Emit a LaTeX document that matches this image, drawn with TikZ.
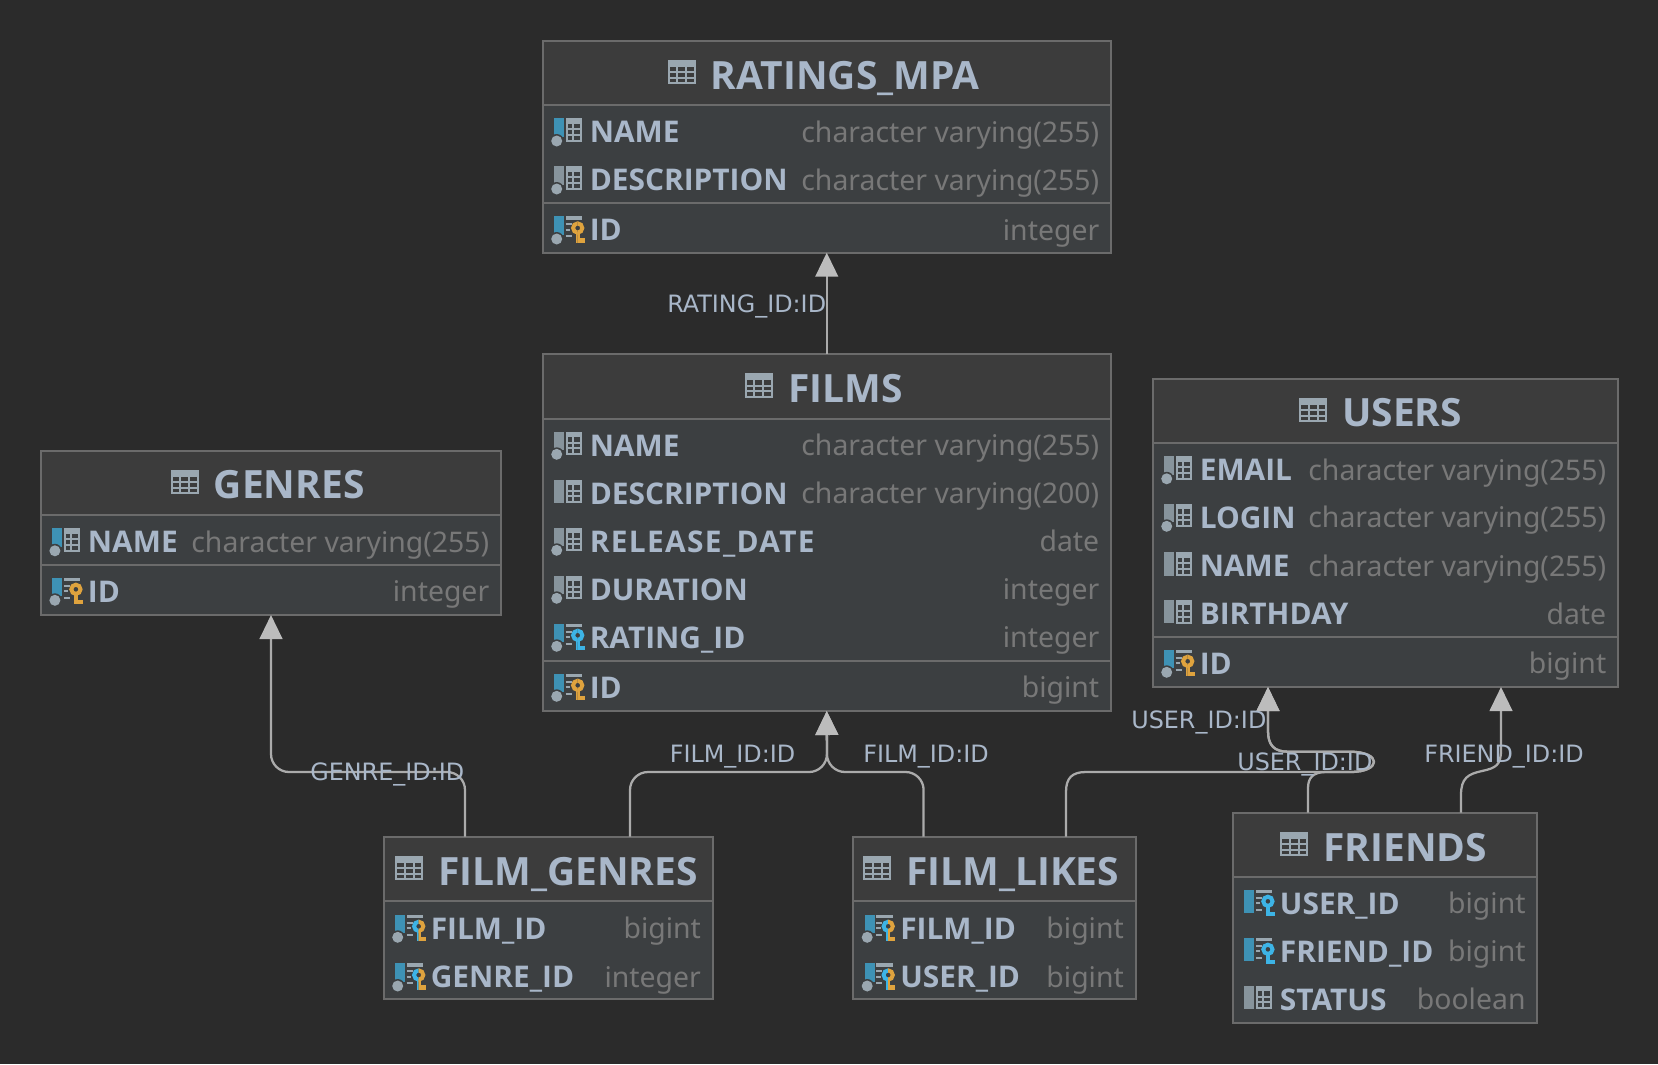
\documentclass[tikz,border=0pt]{standalone}
\usepackage{fontspec}
\setmainfont{Noto Sans}
\newfontfamily\namefont{Open Sans}
\newfontfamily\labelfont{DejaVu Sans}
\usetikzlibrary{arrows.meta}
\definecolor{bgc}{HTML}{2B2B2B}
\definecolor{headc}{HTML}{3C3C3C}
\definecolor{bodyc}{HTML}{3C3F41}
\definecolor{linec}{HTML}{6B6B6B}
\definecolor{namec}{HTML}{A9B7C9}
\definecolor{typec}{HTML}{787878}
\definecolor{edgec}{HTML}{ABABAB}
\definecolor{tipc}{HTML}{BCBCBC}
\definecolor{iconc}{HTML}{9AA7B0}
\definecolor{graybar}{HTML}{87949C}
\definecolor{bluebar}{HTML}{3E92B5}
\definecolor{keypk}{HTML}{DFA33E}
\definecolor{keyfk}{HTML}{3DB4E6}
\tikzset{
  tbl/.style={anchor=north west,inner sep=0,outer sep=0,fill=bodyc},
  tblline/.style={draw=linec,line width=1.5pt},
  headname/.style={anchor=base west,inner sep=0,text=namec,font=\namefont\fontsize{29.2}{33}\selectfont\bfseries},
  colname/.style={anchor=base west,inner sep=0,text=namec,font=\namefont\fontsize{22.4}{26}\selectfont\bfseries},
  coltype/.style={anchor=base east,inner sep=0,text=typec,font=\fontsize{21.3}{26}\selectfont},
  fkline/.style={edgec,line width=1.7pt},
  fktip/.style={-{Triangle[width=17pt,length=18pt,color=tipc]}},
  fklabel/.style={anchor=base west,inner sep=0,text=namec,font=\labelfont\fontsize{17.9}{20}\selectfont},
}
% small icons, x and y are the left side and the middle of the row
\newcommand{\dbkey}[4]{
  \begin{scope}
    \clip (#1+35.2-12,#2-15) rectangle (#1+35.2,#2+20);
    \draw[#3,line width=3pt] (#1+35.2,#2-1.7) circle (4.6);
    \fill[#3] (#1+33.4,#2+2) rectangle (#1+37,#2+13.3);
  \end{scope}
  \begin{scope}
    \clip (#1+35.2,#2-15) rectangle (#1+35.2+12,#2+20);
    \draw[#4,line width=3pt] (#1+35.2,#2-1.7) circle (4.6);
    \fill[#4] (#1+33.4,#2+2) rectangle (#1+37,#2+13.3);
    \fill[#4] (#1+35.2,#2+8.6) rectangle (#1+42,#2+13.3);
  \end{scope}
}
\newcommand{\colicon}[5]{
  \ifnum#4=1
    \fill[#3] (#1+11.5,#2-13.4) rectangle (#1+21.5,#2+5);
    \fill[bodyc] (#1+14.2,#2+9.3) circle (7);
    \fill[iconc] (#1+14.2,#2+9.3) circle (5.5);
  \else
    \fill[#3] (#1+11.5,#2-13.4) rectangle (#1+21.5,#2+10);
  \fi
  \ifnum#5=0
    \fill[iconc] (#1+23.2,#2-13.4) rectangle (#1+39.5,#2-8);
    \draw[iconc,line width=1.5pt] (#1+24,#2-8) -- (#1+24,#2+9.2) -- (#1+38.7,#2+9.2) -- (#1+38.7,#2-8)
      (#1+24,#2-2.5) -- (#1+38.7,#2-2.5) (#1+24,#2+3.4) -- (#1+38.7,#2+3.4) (#1+30,#2-8) -- (#1+30,#2+9.2);
  \else
    \fill[iconc] (#1+23.2,#2-13.4) rectangle (#1+39.5,#2-10);
    \draw[iconc,line width=1.5pt] (#1+23.2,#2-5.5) -- (#1+29,#2-5.5) (#1+23.2,#2) -- (#1+27.5,#2) (#1+23.2,#2+6.5) -- (#1+29,#2+6.5);
    \ifcase#5 \or \dbkey{#1}{#2}{keypk}{keypk} \or \dbkey{#1}{#2}{keyfk}{keyfk} \or \dbkey{#1}{#2}{keyfk}{keypk} \fi
  \fi
}
% id, left, top, right, bottom, line under head, left of title, title, rows
\newcommand{\dbtable}[9]{
  \node[tbl,minimum width={(#4-#2)*.75pt},minimum height={(#5-#3)*.75pt}] (#1) at (#2,#3) {};
  \fill[headc] (#1.north west) rectangle (#4,#6);
  \draw[tblline] (#1.north west) rectangle (#1.south east);
  \draw[tblline] (#2,#6) -- (#4,#6);
  \fill[iconc] (#7-43.7,#3+19.3) rectangle (#7-16,#3+26);
  \draw[iconc,line width=1.5pt] (#7-43,#3+26) -- (#7-43,#3+42.6) -- (#7-16.7,#3+42.6) -- (#7-16.7,#3+26)
    (#7-43,#3+31.5) -- (#7-16.7,#3+31.5) (#7-43,#3+37) -- (#7-16.7,#3+37)
    (#7-34.5,#3+26) -- (#7-34.5,#3+42.6) (#7-25.5,#3+26) -- (#7-25.5,#3+42.6);
  \node[headname] (#1title) at (#7-1,#3+48.3) {#8};
  \foreach \ry/\rbar/\rdot/\rkey/\rname/\rtype [count=\i] in {#9} {
    \colicon{#2}{\ry}{\rbar}{\rdot}{\rkey}
    \node[colname] (#1name\i) at (#2+47,\ry+11.1) {\rname};
    \node[coltype] (#1type\i) at (#4-11.5,\ry+10.9) {\rtype};
  }
}
% the part both USER_ID lines share, from the loop to the arrow
\def\userloop{(1350,772) .. controls (1382,772) and (1382,751.7) .. (1350,751.7) -- (1288,751.7)
  .. controls (1274,751.7) and (1268,745) .. (1268,731)}
\begin{document}
\begin{tikzpicture}[x=.75pt,y=-.75pt]
  \useasboundingbox (0,0) rectangle (1658,1064);
  \fill[bgc] (0,0) rectangle (1658,1064);
  \dbtable{ratings}{542.5}{40.7}{1111}{252.7}{104.7}{711.7}{RATINGS\_MPA}{
    131.7/bluebar/1/0/NAME/character varying(255),
    179.7/graybar/1/0/DESCRIPTION/character varying(255),
    229.7/bluebar/1/1/ID/integer}
  \draw[tblline] (542.5,202.7) -- (1111,202.7);
  \dbtable{films}{542.5}{354}{1111}{711}{418.7}{788.8}{FILMS}{
    445/graybar/1/0/NAME/character varying(255),
    493/graybar/0/0/DESCRIPTION/character varying(200),
    541/graybar/1/0/{\addfontfeature{LetterSpace=4.5}RELEASE\_DATE}/date,
    589/graybar/1/0/DURATION/integer,
    637/bluebar/1/2/RATING\_ID/integer,
    687/bluebar/1/1/ID/bigint}
  \draw[tblline] (542.5,660.5) -- (1111,660.5);
  \dbtable{genres}{40.7}{450.5}{501}{615}{515}{214.7}{GENRES}{
    541.5/bluebar/1/0/NAME/character varying(255),
    591/bluebar/1/1/ID/integer}
  \draw[tblline] (40.7,565) -- (501,565);
  \dbtable{users}{1152.5}{378.5}{1618}{687}{443}{1343}{USERS}{
    469.5/graybar/1/0/EMAIL/character varying(255),
    517/graybar/1/0/LOGIN/character varying(255),
    565.7/graybar/0/0/NAME/character varying(255),
    613.3/graybar/0/0/BIRTHDAY/date,
    663/bluebar/1/1/ID/bigint}
  \draw[tblline] (1152.5,636.5) -- (1618,636.5);
  \dbtable{filmgenres}{383.5}{836.7}{712.7}{999}{901}{439}{FILM\_GENRES}{
    928/bluebar/1/3/FILM\_ID/bigint,
    976.7/bluebar/1/3/GENRE\_ID/integer}
  \dbtable{filmlikes}{853}{836.7}{1135.6}{999}{901}{907}{FILM\_LIKES}{
    928/bluebar/1/3/FILM\_ID/bigint,
    976.7/bluebar/1/3/USER\_ID/bigint}
  \dbtable{friends}{1232.7}{812.7}{1537.3}{1022.5}{876.7}{1324}{FRIENDS}{
    903/bluebar/0/2/USER\_ID/bigint,
    951/bluebar/0/2/FRIEND\_ID/bigint,
    999/graybar/0/0/STATUS/boolean}
  % connectors
  \draw[fkline,fktip] (films.north) -- (ratings.south);
  \draw[fkline,fktip,rounded corners=13.5pt] (465,0 |- filmgenres.north) -- (465,772) -- (271,772) -- (271,0 |- genres.south);
  \draw[fkline,fktip,rounded corners=13.5pt] (630,0 |- filmgenres.north) -- (630,772) -- (827,772) -- (films.south);
  \draw[fkline,fktip,rounded corners=13.5pt] (923.6,0 |- filmlikes.north) -- (923.6,772) -- (827,772) -- (films.south);
  \draw[fkline,fktip] (1066,0 |- filmlikes.north) -- (1066,792) .. controls (1066,778) and (1072,772) .. (1086,772) -- \userloop -- (1268,0 |- users.south);
  \draw[fkline,fktip] (1308,0 |- friends.north) -- (1308,788) .. controls (1308,778) and (1313,772) .. (1326,772) -- \userloop -- (1268,0 |- users.south);
  \draw[fkline,fktip] (1461,0 |- friends.north) -- (1461,795) .. controls (1461,778) and (1468,774) .. (1482,771)
    .. controls (1496,768) and (1501,765) .. (1501,750) -- (1501,0 |- users.south);
  % labels
  \node[fklabel] (lrating) at (667,312.5) {RATING\_ID:ID};
  \node[fklabel] (lgenre) at (310,780) {GENRE\_ID:ID};
  \node[fklabel] (lfilma) at (669.5,762.5) {FILM\_ID:ID};
  \node[fklabel] (lfilmb) at (863,762.5) {FILM\_ID:ID};
  \node[fklabel] (lusera) at (1131,728.3) {USER\_ID:ID};
  \node[fklabel] (luserb) at (1237,770) {USER\_ID:ID};
  \node[fklabel] (lfriend) at (1424,762.5) {FRIEND\_ID:ID};
\end{tikzpicture}
\end{document}
